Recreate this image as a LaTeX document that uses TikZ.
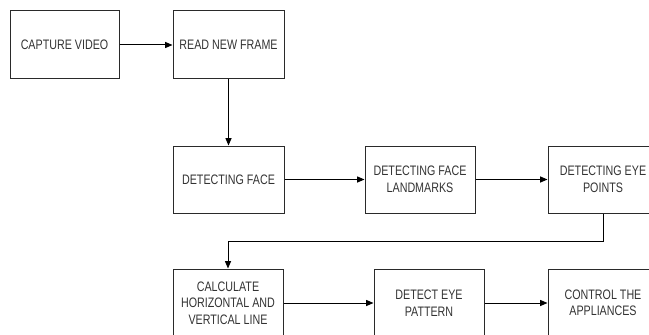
\documentclass[tikz,border=0pt]{standalone}
\usepackage{fontspec}
\usetikzlibrary{arrows.meta}
\newfontfamily\boxfont[FakeStretch=0.78]{Liberation Sans}
\definecolor{txtgray}{HTML}{333333}
\definecolor{linegray}{HTML}{2A2A2A}
\tikzset{
  stepbox/.style={draw=linegray, line width=0.75pt, fill=white, minimum width=82.5pt, minimum height=51pt, inner sep=1pt, align=center, text=txtgray, font=\boxfont\fontsize{10.3pt}{12.4pt}\selectfont},
  flow/.style={draw=black, line width=0.75pt, -{Triangle[length=5.5pt,width=4.5pt]}}
}
\begin{document}
\begin{tikzpicture}[x=0.75pt,y=-0.75pt]
\useasboundingbox (0,0) rectangle (649,335);
\clip (0,0) rectangle (649,335);
\node[stepbox, minimum width=81.75pt] (b1) at (64.5,45) {CAPTURE VIDEO};
\node[stepbox, minimum width=83.25pt] (b2) at (228.5,45) {READ NEW FRAME};
\node[stepbox, minimum width=83.25pt, minimum height=50.25pt] (b3) at (228.5,179.5) {DETECTING FACE};
\node[stepbox, minimum height=50.25pt] (b4) at (420,179.5) {DETECTING FACE\\LANDMARKS};
\node[stepbox, minimum height=50.25pt] (b5) at (603,179.5) {DETECTING EYE\\POINTS};
\node[stepbox] (b6) at (228,303) {CALCULATE\\HORIZONTAL AND\\VERTICAL LINE};
\node[stepbox] (b7) at (429,303) {DETECT EYE\\PATTERN};
\node[stepbox] (b8) at (603,303) {CONTROL THE\\APPLIANCES};
\draw[flow] (b1) -- (b2);
\draw[flow] (b2) -- (b3);
\draw[flow] (b3) -- (b4);
\draw[flow] (b4) -- (b5);
\draw[flow] (b5.south) -- ++(0,28) coordinate (bend) -| (b6.north);
\draw[flow] (b6) -- (b7);
\draw[flow] (b7) -- (b8);
\end{tikzpicture}
\end{document}
